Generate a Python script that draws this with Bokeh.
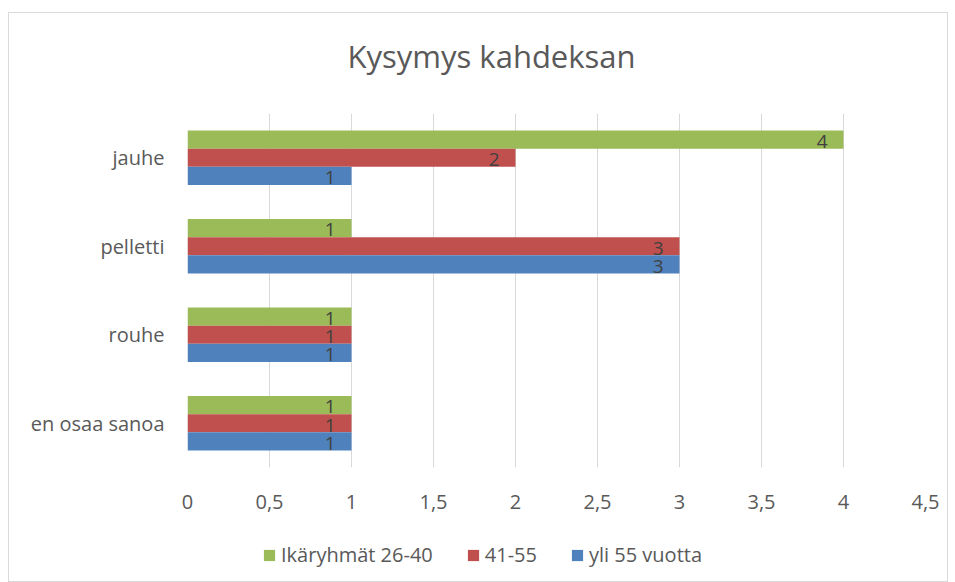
from bokeh.plotting import figure
from bokeh.layouts import column
from bokeh.models import ColumnDataSource, FixedTicker, Range1d, FactorRange, Legend, LegendItem, Title
from bokeh.transform import dodge
from bokeh.core.properties import value
from bokeh.embed import file_html
from bokeh.resources import INLINE

categories = ["en osaa sanoa", "rouhe", "pelletti", "jauhe"]
series_names = ["Ikäryhmät 26-40", "41-55", "yli 55 vuotta"]
age_26_40 = [1, 1, 1, 4]
age_41_55 = [1, 1, 3, 2]
age_over_55 = [1, 1, 3, 1]
x_ticks = [0, 0.5, 1, 1.5, 2, 2.5, 3, 3.5, 4, 4.5]
x_tick_labels = ["0", "0,5", "1", "1,5", "2", "2,5", "3", "3,5", "4", "4,5"]
title_text = "Kysymys kahdeksan"

colors = ["#9BBB59", "#C0504D", "#4F81BD"]
FONT = "Open Sans"

source = ColumnDataSource(dict(
    cat=categories,
    s0=age_26_40, s1=age_41_55, s2=age_over_55,
    l0=[str(v) for v in age_26_40],
    l1=[str(v) for v in age_41_55],
    l2=[str(v) for v in age_over_55],
))

p = figure(frame_width=738, frame_height=354, output_backend="svg", toolbar_location=None,
           y_range=FactorRange(*categories), x_range=Range1d(0, 4.5), title=None,
           min_border_left=178, min_border_right=22, min_border_top=100, min_border_bottom=54)

# spacer (closest to the frame), then the visible title above it
p.add_layout(Title(text=" ", text_font_size="2px", standoff=16), "above")
p.add_layout(Title(text=title_text, align="left", offset=160, text_font=FONT,
                   text_font_style="normal", text_font_size="31px", text_color="#595959",
                   standoff=34), "above")

offsets = [0.205, 0.0, -0.205]
for i, key in enumerate(["s0", "s1", "s2"]):
    p.hbar(y=dodge("cat", offsets[i], range=p.y_range), right=key, left=0,
           height=0.205, fill_color=colors[i], line_color=None, source=source)
    p.text(x=key, y=dodge("cat", offsets[i] - 0.02, range=p.y_range), text="l" + key[1],
           source=source, text_align="right", text_baseline="middle", x_offset=-16,
           text_font=value(FONT), text_font_size="19px", text_color="#404040")

p.xaxis.ticker = FixedTicker(ticks=x_ticks)
p.xaxis.major_label_overrides = {t: l for t, l in zip(x_ticks, x_tick_labels)}
for ax in (p.xaxis, p.yaxis):
    ax.axis_line_color = None
    ax.major_tick_line_color = None
    ax.minor_tick_line_color = None
    ax.major_label_text_font = FONT
    ax.major_label_text_font_size = "20px"
    ax.major_label_text_color = "#595959"
p.xaxis.major_label_standoff = 21
p.yaxis.major_label_standoff = 17

p.ygrid.grid_line_color = None
p.xgrid.grid_line_color = "#D9D9D9"
p.xgrid.grid_line_width = 1
p.outline_line_color = None

# legend strip below the chart (zero-size proxy glyphs only carry the legend colours)
lf = figure(width=938, height=60, output_backend="svg", toolbar_location=None,
            x_range=Range1d(0, 1), y_range=Range1d(0, 1),
            x_axis_type=None, y_axis_type=None, min_border=0)
lf.outline_line_color = None
proxies = [lf.hbar(y=[0], left=[0], right=[0], height=0, fill_color=colors[i], line_color=None)
           for i in range(3)]
legend = Legend(items=[LegendItem(label=series_names[i], renderers=[proxies[i]]) for i in range(3)],
                orientation="horizontal", location=(75, 13),
                label_text_font=FONT, label_text_font_size="20px", label_text_color="#595959",
                glyph_width=14, glyph_height=14, spacing=33, label_standoff=5,
                border_line_color=None, background_fill_alpha=0, margin=0, padding=4)
lf.add_layout(legend, "center")

layout = column(p, lf, spacing=0,
                styles={"margin-left": "8px", "margin-top": "12px", "border": "1px solid #D9D9D9"})

open("out.html", "w").write(file_html(layout, INLINE))
